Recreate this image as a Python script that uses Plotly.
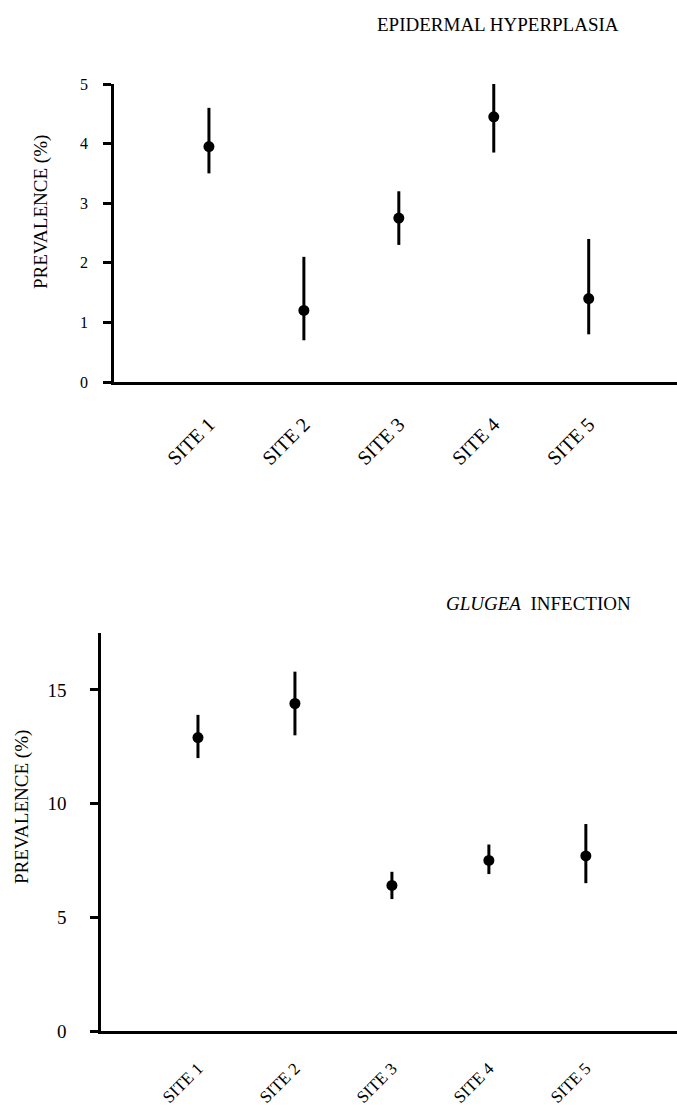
import plotly.graph_objects as go

W, H = 677, 1115

sites = ["SITE 1", "SITE 2", "SITE 3", "SITE 4", "SITE 5"]

# Epidermal hyperplasia prevalence (%)
epi_mean = [3.95, 1.2, 2.75, 4.45, 1.4]
epi_upper = [4.6, 2.1, 3.2, 5.1, 2.4]
epi_lower = [3.5, 0.7, 2.3, 3.85, 0.8]

# Glugea infection prevalence (%)
glu_mean = [12.9, 14.4, 6.4, 7.5, 7.7]
glu_upper = [13.9, 15.8, 7.0, 8.2, 9.1]
glu_lower = [12.0, 13.0, 5.8, 6.9, 6.5]

epi_yticks = [0, 1, 2, 3, 4, 5]
glu_yticks = [0, 5, 10, 15]

FONT = "Liberation Serif"


def px_x(p):
    return p / W


def px_y(p):
    return 1 - p / H


fig = go.Figure()

fig.add_trace(go.Scatter(
    x=sites, y=epi_mean, mode="markers",
    marker=dict(color="black", size=11),
    error_y=dict(type="data", symmetric=False,
                 array=[u - m for u, m in zip(epi_upper, epi_mean)],
                 arrayminus=[m - l for m, l in zip(epi_mean, epi_lower)],
                 color="black", thickness=3, width=0),
    cliponaxis=False, xaxis="x", yaxis="y", showlegend=False))

fig.add_trace(go.Scatter(
    x=sites, y=glu_mean, mode="markers",
    marker=dict(color="black", size=11),
    error_y=dict(type="data", symmetric=False,
                 array=[u - m for u, m in zip(glu_upper, glu_mean)],
                 arrayminus=[m - l for m, l in zip(glu_mean, glu_lower)],
                 color="black", thickness=3, width=0),
    cliponaxis=False, xaxis="x2", yaxis="y2", showlegend=False))

common_x = dict(type="category", showgrid=False, zeroline=False, showline=True,
                linecolor="black", linewidth=2.5, ticks="", tickangle=-45,
                automargin=False)
common_y = dict(showgrid=False, zeroline=False, showline=True, linecolor="black",
                linewidth=2.5, ticks="outside", ticklen=8, tickwidth=2.5,
                tickcolor="black", automargin=False)

fig.update_layout(
    width=W, height=H, autosize=False,
    margin=dict(l=0, r=0, t=0, b=0, pad=0),
    paper_bgcolor="white", plot_bgcolor="white",
    font=dict(family=FONT, color="black"),
    xaxis=dict(common_x, domain=[px_x(114), 1], range=[-1, 4.93],
               anchor="y", ticklabelstandoff=20,
               tickfont=dict(family=FONT, size=20, color="black")),
    yaxis=dict(common_y, domain=[px_y(382), px_y(84)], range=[0, 5],
               tickvals=epi_yticks, anchor="x",
               tickfont=dict(family=FONT, size=16, color="black"),
               ticklabelstandoff=12),
    xaxis2=dict(common_x, domain=[px_x(101), 1], range=[-1, 4.94],
                anchor="y2", ticklabelstandoff=18,
                tickfont=dict(family=FONT, size=17, color="black")),
    yaxis2=dict(common_y, domain=[px_y(1031), px_y(633)], range=[0, 17.5],
                tickvals=glu_yticks, anchor="x2",
                tickfont=dict(family=FONT, size=19, color="black"),
                ticklabelstandoff=20),
    annotations=[
        dict(text="EPIDERMAL HYPERPLASIA", xref="paper", yref="paper",
             x=px_x(498), y=px_y(25), xanchor="center", yanchor="middle",
             showarrow=False, font=dict(family=FONT, size=19, color="black")),
        dict(text="<i>GLUGEA</i>  INFECTION", xref="paper", yref="paper",
             x=px_x(538), y=px_y(603), xanchor="center", yanchor="middle",
             showarrow=False, font=dict(family=FONT, size=19, color="black")),
        dict(text="PREVALENCE (%)", xref="paper", yref="paper",
             x=px_x(41), y=px_y(212), xanchor="center", yanchor="middle",
             showarrow=False, textangle=-90,
             font=dict(family=FONT, size=19, color="black")),
        dict(text="PREVALENCE (%)", xref="paper", yref="paper",
             x=px_x(22), y=px_y(807), xanchor="center", yanchor="middle",
             showarrow=False, textangle=-90,
             font=dict(family=FONT, size=19, color="black")),
    ],
)

fig.write_html("out.html")
